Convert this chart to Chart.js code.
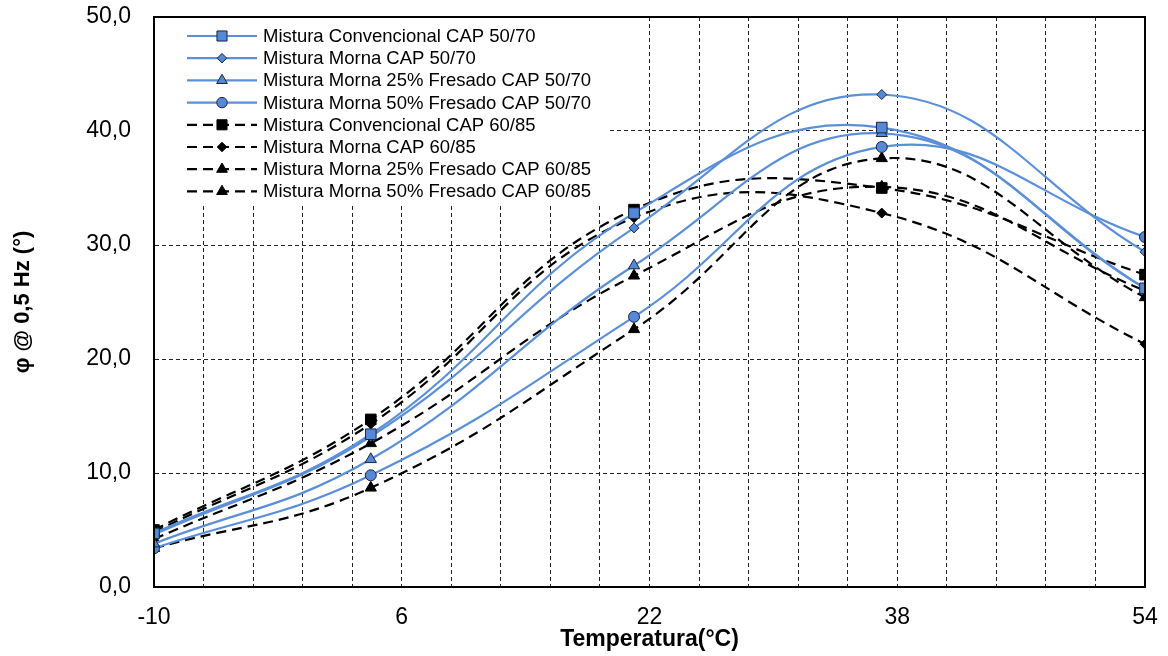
<!DOCTYPE html>
<html lang="pt">
<head>
<meta charset="UTF-8">
<title>φ @ 0,5 Hz x Temperatura</title>
<script src="https://cdn.jsdelivr.net/npm/chart.js"></script>
<style>
  html, body { margin: 0; padding: 0; background: #fff; }
  #wrap { width: 1168px; height: 656px; }
</style>
</head>
<body>
<div id="wrap"><canvas id="phaseChart" width="1168" height="656"></canvas></div>
<script>
// temperatures of the test (°C)
const temps = [-10, 4, 21, 37, 54];

// phase angle (°)
const convCap5070   = [4.7, 13.4, 32.8, 40.3, 26.2];
const mornaCap5070  = [4.6, 13.2, 31.5, 43.2, 29.4];
const morna25Cap5070 = [3.8, 11.2, 28.2, 39.8, 26.2];
const morna50Cap5070 = [3.4, 9.8, 23.7, 38.6, 30.7];
const convCap6085   = [5.0, 14.7, 33.1, 35.0, 27.4];
const mornaCap6085  = [4.8, 14.3, 32.4, 32.8, 21.3];
const morna25Cap6085 = [4.2, 12.6, 27.3, 35.1, 26.0];
const morna50Cap6085 = [3.4, 8.7, 22.6, 37.6, 25.4];

const xTickLabels = [-10, 6, 22, 38, 54];
const yTickLabels = [0, 10, 20, 30, 40, 50];

const BLUE = '#5b8fd8';
const BLUE_FILL = '#5588d6';
const EDGE = '#1c2540';
const FONT = '"Liberation Sans", Arial, sans-serif';

const seriesDefs = [
  { label: 'Mistura Convencional CAP 50/70', data: convCap5070, blue: true, style: 'rect', r: 7.5 },
  { label: 'Mistura Morna CAP 50/70', data: mornaCap5070, blue: true, style: 'rectRot', r: 5 },
  { label: 'Mistura Morna 25% Fresado CAP 50/70', data: morna25Cap5070, blue: true, style: 'triangle', r: 6.5 },
  { label: 'Mistura Morna 50% Fresado CAP 50/70', data: morna50Cap5070, blue: true, style: 'circle', r: 5.5 },
  { label: 'Mistura Convencional CAP 60/85', data: convCap6085, blue: false, style: 'rect', r: 7.5 },
  { label: 'Mistura Morna CAP 60/85', data: mornaCap6085, blue: false, style: 'rectRot', r: 5 },
  { label: 'Mistura Morna 25% Fresado CAP 60/85', data: morna25Cap6085, blue: false, style: 'triangle', r: 6.5 },
  { label: 'Mistura Morna 50% Fresado CAP 60/85', data: morna50Cap6085, blue: false, style: 'triangle', r: 6.5 }
];

const datasets = seriesDefs.map(s => ({
  label: s.label,
  data: temps.map((t, i) => ({ x: t, y: s.data[i] })),
  borderColor: s.blue ? BLUE : '#000',
  borderWidth: 2.2,
  borderDash: s.blue ? [] : [10, 6],
  backgroundColor: s.blue ? BLUE_FILL : '#000',
  pointBackgroundColor: s.blue ? BLUE_FILL : '#000',
  pointBorderColor: s.blue ? EDGE : '#000',
  pointBorderWidth: 1,
  pointStyle: s.style,
  pointRadius: s.r,
  pointHoverRadius: s.r,
  tension: 0.42,
  fill: false
}));

// white box with the legend, drawn inside the plot area
const insideLegend = {
  id: 'insideLegend',
  afterDraw(chart) {
    const ctx = chart.ctx;
    const a = chart.chartArea;
    ctx.save();
    ctx.fillStyle = '#fff';
    ctx.fillRect(a.left + 1, a.top + 1, 452, 188);

    // plot border
    ctx.strokeStyle = '#000';
    ctx.lineWidth = 2;
    ctx.setLineDash([]);
    ctx.strokeRect(a.left, a.top, a.right - a.left, a.bottom - a.top);

    ctx.font = '18.5px ' + FONT;
    ctx.textBaseline = 'middle';
    ctx.textAlign = 'left';
    seriesDefs.forEach((s, i) => {
      const y = a.top + 19 + i * 22.2;
      const x0 = a.left + 33, x1 = a.left + 103, xm = a.left + 68;
      ctx.beginPath();
      ctx.strokeStyle = s.blue ? BLUE : '#000';
      ctx.lineWidth = 2.2;
      ctx.setLineDash(s.blue ? [] : [10, 6]);
      ctx.moveTo(x0, y);
      ctx.lineTo(x1, y);
      ctx.stroke();
      ctx.setLineDash([]);
      ctx.fillStyle = s.blue ? BLUE_FILL : '#000';
      ctx.strokeStyle = s.blue ? EDGE : '#000';
      ctx.lineWidth = 1;
      Chart.helpers.drawPoint(ctx, { pointStyle: s.style, radius: s.r * 0.95, borderWidth: 1 }, xm, y);
      ctx.fillStyle = '#000';
      ctx.fillText(s.label, a.left + 109, y + 1);
    });
    ctx.restore();
  }
};

new Chart(document.getElementById('phaseChart'), {
  type: 'line',
  data: { datasets },
  options: {
    responsive: false,
    animation: false,
    layout: { padding: { left: 0, top: 17, right: 23, bottom: 0 } },
    plugins: { legend: { display: false }, tooltip: { enabled: false } },
    scales: {
      x: {
        type: 'linear',
        min: -10,
        max: 54,
        afterBuildTicks(scale) {
          // minor gridlines every 3,2 °C, labels only on the major ones
          const t = [];
          for (let i = 0; i <= 20; i++) t.push({ value: xTickLabels[0] + i * 3.2 });
          scale.ticks = t;
        },
        afterFit(scale) {
          scale.height = 69;
          scale.paddingLeft = 0; scale.paddingRight = 0;
          scale.paddingTop = 0; scale.paddingBottom = 0;
        },
        grid: {
          color: '#222',
          lineWidth: 1,
          drawTicks: false
        },
        border: { display: true, color: '#000', width: 2, dash: [4, 3] },
        ticks: {
          autoSkip: false,
          maxRotation: 0,
          padding: 17,
          color: '#000',
          font: { family: FONT, size: 23 },
          callback(v, i) {
            return i % 5 === 0 ? String(xTickLabels[i / 5]) : '';
          }
        },
        title: {
          display: true,
          text: 'Temperatura(°C)',
          color: '#000',
          padding: { top: 0, bottom: 3 },
          font: { family: FONT, size: 23, weight: 'bold' }
        }
      },
      y: {
        min: 0,
        max: 50,
        afterBuildTicks(scale) {
          scale.ticks = yTickLabels.map(v => ({ value: v }));
        },
        afterFit(scale) {
          scale.width = 154;
          scale.paddingLeft = 0; scale.paddingRight = 0;
          scale.paddingTop = 0; scale.paddingBottom = 0;
        },
        grid: {
          color: '#222',
          lineWidth: 1,
          drawTicks: false
        },
        border: { display: true, color: '#000', width: 2, dash: [4, 3] },
        ticks: {
          padding: 23,
          color: '#000',
          font: { family: FONT, size: 23 },
          callback(v) { return v.toFixed(1).replace('.', ','); }
        },
        title: {
          display: true,
          text: 'φ @ 0,5 Hz (°)',
          color: '#000',
          padding: { top: 10, bottom: 0 },
          font: { family: FONT, size: 22, weight: 'bold' }
        }
      }
    }
  },
  plugins: [insideLegend]
});
</script>
</body>
</html>
